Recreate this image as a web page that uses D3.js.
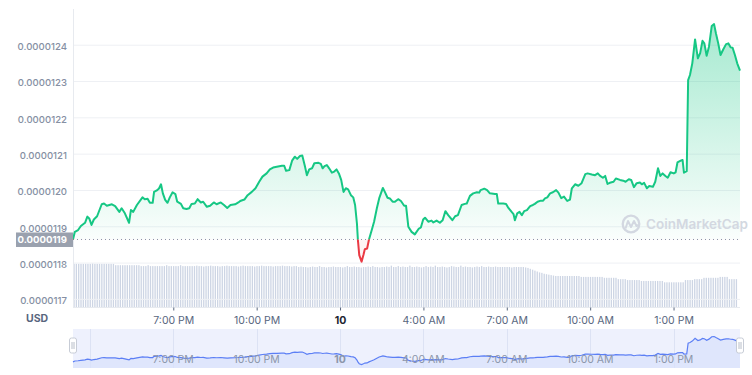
<!DOCTYPE html>
<html><head><meta charset="utf-8">
<script src="https://cdn.jsdelivr.net/npm/d3@7"></script>
<style>
body{margin:0;background:#fff;}
svg{display:block;font-family:Inter,"Noto Sans",sans-serif;}
</style>
</head><body>
<svg id="c" width="752" height="375"></svg>
<script>
// ---------- DATA ----------
const startTime = new Date(2022, 10, 9, 15, 23, 30);
const spanMinutes = 1440;
const minutes = [0,4,11,17,26,31,35,40,45,52,62,67,73,84,91,100,105,112,121,125,130,138,150,155,161,166,172,175,182,186,190,194,199,204,209,215,221,225,233,238,245,251,256,263,269,276,281,289,296,304,310,319,326,333,340,350,357,361,370,377,386,394,402,409,418,425,432,440,451,456,460,467,473,479,484,490,495,501,505,510,516,521,530,535,539,543,548,553,559,564,569,574,579,584,589,594,600,605,609,613,615,618,623,627,630,635,639,645,650,656,661,669,674,679,684,690,695,702,708,715,719,724,731,738,746,751,756,760,767,774,778,785,792,798,804,810,819,825,831,839,846,850,857,864,872,877,880,888,894,900,911,915,918,929,935,940,947,951,954,959,964,969,974,980,987,993,997,1003,1010,1015,1019,1024,1030,1036,1043,1048,1054,1060,1067,1073,1077,1084,1091,1098,1106,1111,1120,1127,1133,1138,1144,1149,1154,1159,1167,1172,1181,1188,1193,1200,1205,1211,1217,1224,1228,1233,1239,1244,1252,1257,1263,1268,1273,1279,1284,1290,1297,1301,1305,1312,1316,1319,1325,1328,1332,1337,1343,1349,1354,1359,1363,1368,1373,1379,1384,1388,1393,1398,1404,1410,1415,1420,1424,1429,1434,1440];
const prices = [0.000011865,0.000011886,0.000011891,0.000011902,0.000011911,0.000011928,0.000011923,0.000011905,0.000011920,0.000011929,0.000011962,0.000011964,0.000011958,0.000011962,0.000011957,0.000011941,0.000011951,0.000011937,0.000011911,0.000011946,0.000011941,0.000011960,0.000011981,0.000011976,0.000011977,0.000011966,0.000011966,0.000011996,0.000012001,0.000012006,0.000012017,0.000011992,0.000011974,0.000011966,0.000011981,0.000011995,0.000011990,0.000011969,0.000011963,0.000011951,0.000011949,0.000011951,0.000011963,0.000011964,0.000011976,0.000011967,0.000011969,0.000011955,0.000011958,0.000011967,0.000011962,0.000011967,0.000011960,0.000011952,0.000011960,0.000011962,0.000011967,0.000011971,0.000011975,0.000011987,0.000011996,0.000012006,0.000012024,0.000012038,0.000012047,0.000012058,0.000012063,0.000012065,0.000012068,0.000012068,0.000012054,0.000012056,0.000012082,0.000012093,0.000012087,0.000012095,0.000012096,0.000012065,0.000012042,0.000012058,0.000012061,0.000012075,0.000012076,0.000012073,0.000012061,0.000012067,0.000012070,0.000012061,0.000012049,0.000012052,0.000012058,0.000012047,0.000012029,0.000011996,0.000012006,0.000012003,0.000011987,0.000011981,0.000011960,0.000011909,0.000011865,0.000011822,0.000011804,0.000011822,0.000011838,0.000011840,0.000011865,0.000011891,0.000011914,0.000011951,0.000011978,0.000012007,0.000011994,0.000011980,0.000011978,0.000011969,0.000011969,0.000011976,0.000011971,0.000011958,0.000011958,0.000011900,0.000011886,0.000011879,0.000011894,0.000011898,0.000011920,0.000011925,0.000011914,0.000011917,0.000011912,0.000011917,0.000011911,0.000011918,0.000011943,0.000011932,0.000011918,0.000011929,0.000011932,0.000011960,0.000011963,0.000011964,0.000011985,0.000011992,0.000011995,0.000011994,0.000012001,0.000012005,0.000012001,0.000011992,0.000011990,0.000011990,0.000011964,0.000011964,0.000011963,0.000011952,0.000011941,0.000011935,0.000011918,0.000011937,0.000011941,0.000011932,0.000011943,0.000011946,0.000011957,0.000011960,0.000011963,0.000011969,0.000011972,0.000011972,0.000011978,0.000011981,0.000011992,0.000011995,0.000012001,0.000011994,0.000011979,0.000011983,0.000011971,0.000011975,0.000012006,0.000012017,0.000012013,0.000012020,0.000012045,0.000012047,0.000012044,0.000012042,0.000012047,0.000012040,0.000012035,0.000012040,0.000012018,0.000012021,0.000012024,0.000012033,0.000012029,0.000012027,0.000012024,0.000012031,0.000012029,0.000012009,0.000012020,0.000012022,0.000012017,0.000012021,0.000012006,0.000012012,0.000012010,0.000012024,0.000012061,0.000012040,0.000012047,0.000012040,0.000012035,0.000012050,0.000012047,0.000012050,0.000012077,0.000012082,0.000012084,0.000012049,0.000012053,0.000012304,0.000012318,0.000012350,0.000012416,0.000012364,0.000012378,0.000012412,0.000012405,0.000012371,0.000012396,0.000012453,0.000012458,0.000012433,0.000012405,0.000012373,0.000012389,0.000012403,0.000012405,0.000012394,0.000012393,0.000012373,0.000012350,0.000012330];
const volumes = [97,97,97,97,97,97,97,97,98,97,97,97,97,97,97,97,97,97,
94,94,94,94,94,94,94,94,94,94,94,
92,92,92,94,92,92,92,92,92,92,92,94,92,92,92,92,92,94,92,92,92,92,
92,92,93,92,92,91,92,92,93,92,92,92,91,92,92,93,92,92,92,92,91,92,93,92,92,92,92,91,92,92,93,92,92,92,92,91,92,92,92,93,92,92,92,91,92,92,
90,91,90,90,89,90,91,90,90,92,90,90,89,90,90,91,90,90,90,89,90,92,90,90,91,90,90,89,90,90,91,90,92,90,90,89,90,90,91,90,93,90,90,92,90,91,90,90,93,90,90,91,90,89,90,92,90,91,90,93,90,90,91,90,89,90,92,91,90,90,93,90,91,90,90,89,90,91,90,92,90,90,91,90,90,91,
90,90,90,90,90,90,89,90,90,90,90,90,89,
88,86,84,82,80,78,77,75,74,73,72,71,70,
70,70,70,70,70,70,70,70,70,70,
68,68,68,68,68,68,68,68,68,68,
66,66,66,66,66,66,
63,63,63,63,
61,61,61,61,61,61,
59,59,59,59,59,59,59,59,59,59,
56,56,56,56,56,56,56,56,56,
61,61,61,61,
63,63,63,63,
66,66,66,66,66,66,66,
68,68,68,68,
63,63,63,63];
const yTicks = [0.0000117,0.0000118,0.0000119,0.0000120,0.0000121,0.0000122,0.0000123,0.0000124];
const xTickTimes = [new Date(2022,10,9,19),new Date(2022,10,9,22),new Date(2022,10,10,1),new Date(2022,10,10,4),new Date(2022,10,10,7),new Date(2022,10,10,10),new Date(2022,10,10,13)];
const xTickLabels = ["7:00 PM","10:00 PM","10","4:00 AM","7:00 AM","10:00 AM","1:00 PM"];
const navGridTimes = [new Date(2022,10,9,16)];
const currencyLabel = "USD";
const watermark = "CoinMarketCap";

// ---------- SETUP ----------
const svg = d3.select("#c");
const L = 73, R = 740;
const endTime = new Date(startTime.getTime() + spanMinutes*60000);
const x = d3.scaleTime().domain([startTime, endTime]).range([L, R]);
const y = d3.scaleLinear().domain([0.0000117, 0.0000124]).range([299.4, 45.2]);
const yv = d3.scaleLinear().domain([0, 100]).range([307.5, 262.5]);
const data = minutes.map((m, i) => ({t: new Date(startTime.getTime() + m*60000), p: prices[i]}));
const base = prices[0];
const yb = y(base);

const defs = svg.append("defs");
const g1 = defs.append("linearGradient").attr("id","gGreen").attr("gradientUnits","userSpaceOnUse")
  .attr("x1",0).attr("x2",0).attr("y1",y(d3.max(prices))).attr("y2",yb);
g1.append("stop").attr("offset",0).attr("stop-color","#16c784").attr("stop-opacity",0.38);
g1.append("stop").attr("offset",1).attr("stop-color","#16c784").attr("stop-opacity",0.02);
defs.append("clipPath").attr("id","above").append("rect").attr("x",0).attr("y",0).attr("width",752).attr("height",yb);
defs.append("clipPath").attr("id","below").append("rect").attr("x",0).attr("y",yb).attr("width",752).attr("height",375-yb);

// volume bars
svg.append("g").selectAll("rect").data(volumes).join("rect")
  .attr("x",(d,i)=>x(new Date(startTime.getTime()+i*5*60000))+0.4)
  .attr("y",d=>yv(d)).attr("width",1.3).attr("height",d=>yv(0)-yv(d))
  .attr("fill","#cdd5e4");

// gridlines
svg.append("g").selectAll("line").data(yTicks).join("line")
  .attr("x1",L).attr("x2",R).attr("y1",d=>y(d)).attr("y2",d=>y(d))
  .attr("stroke","#eef0f4").attr("stroke-width",1);

// y axis line & bottom line
svg.append("line").attr("x1",L+0.5).attr("x2",L+0.5).attr("y1",9).attr("y2",307.5).attr("stroke","#e7eaef");
svg.append("line").attr("x1",L).attr("x2",R).attr("y1",307.5).attr("y2",307.5).attr("stroke","#e7eaef");

// area
const area = d3.area().x(d=>x(d.t)).y0(yb).y1(d=>y(d.p));
svg.append("path").datum(data).attr("d",area).attr("fill","url(#gGreen)").attr("clip-path","url(#above)");
svg.append("path").datum(data).attr("d",area).attr("fill","#ea3943").attr("fill-opacity",0.06).attr("clip-path","url(#below)");

// baseline dotted
svg.append("line").attr("x1",L).attr("x2",R).attr("y1",yb).attr("y2",yb)
  .attr("stroke","#8a93a6").attr("stroke-width",1).attr("stroke-dasharray","1,3");

// line
const line = d3.line().x(d=>x(d.t)).y(d=>y(d.p));
svg.append("path").datum(data).attr("d",line).attr("fill","none").attr("stroke","#16c784")
  .attr("stroke-width",2).attr("stroke-linejoin","round").attr("clip-path","url(#above)");
svg.append("path").datum(data).attr("d",line).attr("fill","none").attr("stroke","#ea3943")
  .attr("stroke-width",2).attr("stroke-linejoin","round").attr("clip-path","url(#below)");

// y labels
const yAxis = d3.axisLeft(y).tickValues(yTicks).tickFormat(d3.format(".7f")).tickSize(0).tickPadding(6);
const ya = svg.append("g").attr("transform",`translate(${L},0)`).call(yAxis);
ya.select(".domain").remove();
ya.selectAll("text").attr("fill","#858fa3").attr("font-size","9.6px").attr("font-weight",500)
  .attr("font-family","Inter,sans-serif").attr("dy","0.45em");

// base label box
const bl = svg.append("g");
bl.append("rect").attr("x",16).attr("y",yb-7).attr("width",57).attr("height",14.5).attr("fill","#9aa1ae");
bl.append("text").attr("x",67).attr("y",yb+3.8).attr("text-anchor","end").attr("fill","#fff")
  .attr("font-size","9.6px").attr("font-weight",700).text(d3.format(".7f")(Math.round(base*1e7)/1e7));

// x axis
const xAxis = d3.axisBottom(x).tickValues(xTickTimes).tickFormat((d,i)=>xTickLabels[i]).tickSize(3).tickPadding(6);
const xa = svg.append("g").attr("transform","translate(0,307.5)").call(xAxis);
xa.select(".domain").remove();
xa.selectAll(".tick line").attr("stroke","#58667e");
xa.selectAll("text").attr("font-size","10.5px").attr("font-family","Inter,sans-serif")
  .attr("font-weight",(d,i)=>xTickLabels[i]==="10"?700:400)
  .attr("fill",(d,i)=>xTickLabels[i]==="10"?"#222531":"#58667e");
svg.append("text").attr("x",26).attr("y",322).attr("fill","#58667e").attr("font-size","10.5px")
  .attr("font-weight",700).text(currencyLabel);

// watermark
const wm = svg.append("g").attr("fill","none").attr("stroke","#d3d8e1");
wm.append("circle").attr("cx",631).attr("cy",224).attr("r",8.3).attr("stroke-width",2.3);
wm.append("path").attr("d","M625.5,228.5 L628,221 L631,227 L634,221 L636.5,226 L638.5,225").attr("stroke-width",2).attr("stroke-linejoin","round");
svg.append("text").attr("x",646).attr("y",229).attr("fill","#d3d8e1").attr("font-size","13.5px")
  .attr("font-weight",600).text(watermark);

// ---------- NAVIGATOR ----------
const NT = 329, NB = 368;
const yn = d3.scaleLinear().domain([d3.min(prices), d3.max(prices)]).range([364.5, 336.5]);
svg.append("rect").attr("x",L).attr("y",NT).attr("width",R-L).attr("height",NB-NT).attr("fill","#eef1fd");
svg.append("g").selectAll("line").data(navGridTimes.concat(xTickTimes)).join("line")
  .attr("x1",d=>Math.round(x(d))+0.5).attr("x2",d=>Math.round(x(d))+0.5).attr("y1",NT).attr("y2",NB)
  .attr("stroke","#dce2f4");
const narea = d3.area().x(d=>x(d.t)).y0(NB).y1(d=>yn(d.p));
svg.append("path").datum(data).attr("d",narea).attr("fill","#d9e1fb").attr("fill-opacity",0.75);
const nline = d3.line().x(d=>x(d.t)).y(d=>yn(d.p));
svg.append("path").datum(data).attr("d",nline).attr("fill","none").attr("stroke","#5c7ff5").attr("stroke-width",1.2);
svg.append("g").selectAll("text").data(xTickTimes).join("text")
  .attr("x",d=>x(d)).attr("y",363).attr("text-anchor","middle")
  .attr("font-size","10.5px").attr("fill","#8c96aa")
  .attr("font-weight",(d,i)=>xTickLabels[i]==="10"?700:400)
  .text((d,i)=>xTickLabels[i]);
// handles
[L, R].forEach(hx=>{
  const h = svg.append("g");
  h.append("rect").attr("x",hx-3.5).attr("y",338).attr("width",7).attr("height",15).attr("rx",2)
    .attr("fill","#ffffff").attr("stroke","#c7ccd6");
  h.append("line").attr("x1",hx-1).attr("x2",hx-1).attr("y1",342).attr("y2",349).attr("stroke","#b8bec9");
  h.append("line").attr("x1",hx+1).attr("x2",hx+1).attr("y1",342).attr("y2",349).attr("stroke","#b8bec9");
});
</script>
</body></html>
